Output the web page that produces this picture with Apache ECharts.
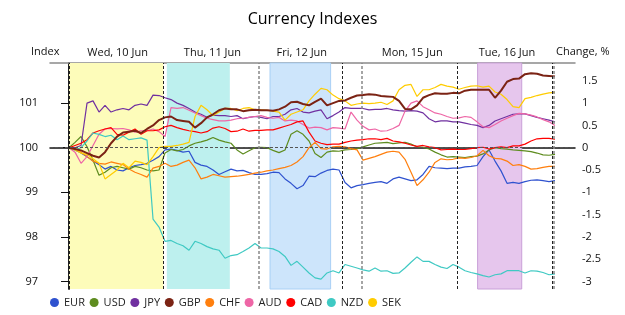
<!DOCTYPE html>
<html>
<head>
<meta charset="UTF-8">
<title>Currency Indexes</title>
<style>
  html, body { margin: 0; padding: 0; background: #fff; }
  #main { width: 625px; height: 315px; }
</style>
</head>
<body>
<div id="main"></div>
<script src="https://cdn.jsdelivr.net/npm/echarts@6/dist/echarts.min.js"></script>
<script>
// change in % from start, one sample per step (Wed 17, Thu 15, Fri 16, Mon 17, Tue 17)
var eur = [0.0, -0.05, -0.12, -0.2, -0.3, -0.38, -0.48, -0.42, -0.5, -0.52, -0.45, -0.4, -0.38, -0.35, -0.28, -0.2, -0.05,
  -0.03, -0.06, -0.1, -0.08, -0.33, -0.39, -0.42, -0.5, -0.6, -0.54, -0.48, -0.52, -0.51, -0.56, -0.6,
  -0.6, -0.58, -0.55, -0.56, -0.7, -0.8, -0.92, -0.85, -0.64, -0.65, -0.57, -0.51, -0.48, -0.5, -0.78, -0.9,
  -0.85, -0.83, -0.8, -0.78, -0.76, -0.8, -0.7, -0.66, -0.7, -0.74, -0.72, -0.6, -0.42, -0.45, -0.46, -0.47, -0.46,
  -0.46, -0.43, -0.42, -0.4, -0.2, -0.05, -0.3, -0.52, -0.8, -0.78, -0.8, -0.76, -0.73, -0.72, -0.74, -0.76, -0.74];
var usd = [0.0, 0.12, 0.25, 0.02, -0.28, -0.62, -0.55, -0.45, -0.42, -0.45, -0.48, -0.42, -0.45, -0.5, -0.52, -0.5, -0.12,
  -0.04, -0.07, -0.04, 0.04, 0.1, 0.13, 0.17, 0.23, 0.17, 0.13, 0.1, -0.05, -0.14, -0.07, 0.0,
  0.01, 0.0, -0.06, -0.11, -0.05, 0.3, 0.38, 0.3, 0.15, -0.13, -0.22, -0.1, -0.07, -0.08, -0.05, -0.04,
  -0.02, 0.02, 0.06, 0.1, 0.11, 0.12, 0.09, 0.11, 0.12, 0.08, 0.02, 0.01, -0.03, -0.1, -0.16, -0.21, -0.2,
  -0.21, -0.22, -0.2, -0.19, -0.14, -0.05, 0.0, -0.02, -0.03, -0.05, -0.06, -0.07, -0.09, -0.12, -0.16, -0.17, -0.15];
var jpy = [0.0, 0.0, 0.05, 1.0, 1.05, 0.8, 0.95, 0.8, 0.85, 0.88, 0.85, 0.95, 0.98, 0.95, 1.18, 1.17, 1.12,
  1.08, 1.0, 0.95, 0.88, 0.8, 0.75, 0.68, 0.73, 0.72, 0.72, 0.7, 0.72, 0.65, 0.68, 0.7,
  0.68, 0.65, 0.7, 0.7, 0.75, 0.85, 0.88, 0.8, 0.78, 0.82, 0.85, 0.65, 0.72, 0.8, 0.9, 0.88,
  0.88, 0.88, 0.85, 0.86, 0.86, 0.88, 0.85, 0.83, 0.82, 0.83, 0.82, 0.78, 0.65, 0.58, 0.6, 0.6, 0.58,
  0.58, 0.55, 0.52, 0.5, 0.45, 0.5, 0.6, 0.65, 0.7, 0.75, 0.76, 0.76, 0.72, 0.68, 0.65, 0.62, 0.58];
var gbp = [0.0, -0.03, -0.06, -0.12, -0.18, -0.22, -0.1, 0.1, 0.25, 0.34, 0.36, 0.38, 0.33, 0.42, 0.5, 0.62, 0.68,
  0.7, 0.62, 0.6, 0.58, 0.45, 0.55, 0.68, 0.75, 0.84, 0.88, 0.86, 0.86, 0.82, 0.84, 0.85,
  0.84, 0.84, 0.83, 0.86, 0.92, 1.02, 1.03, 0.98, 0.95, 1.03, 1.1, 0.95, 1.0, 1.05, 1.06, 1.12,
  1.17, 1.18, 1.2, 1.19, 1.16, 1.15, 1.14, 1.05, 0.87, 0.86, 0.95, 1.12, 1.18, 1.22, 1.21, 1.21, 1.23,
  1.22, 1.28, 1.3, 1.3, 1.3, 1.3, 1.12, 1.28, 1.48, 1.54, 1.55, 1.65, 1.67, 1.66, 1.62, 1.61, 1.6];
var chf = [0.0, -0.03, -0.1, -0.2, -0.3, -0.35, -0.37, -0.32, -0.35, -0.38, -0.48, -0.55, -0.6, -0.66, -0.46, -0.42, -0.35,
  -0.42, -0.39, -0.33, -0.28, -0.45, -0.7, -0.66, -0.6, -0.63, -0.66, -0.65, -0.64, -0.62, -0.6, -0.57,
  -0.55, -0.52, -0.5, -0.47, -0.44, -0.4, -0.32, -0.2, 0.0, 0.12, -0.02, -0.03, 0.02, 0.03, 0.02, -0.02,
  -0.05, -0.28, -0.24, -0.2, -0.15, -0.1, -0.08, -0.1, -0.26, -0.55, -0.85, -0.72, -0.55, -0.33, -0.25, -0.27, -0.26,
  -0.23, -0.24, -0.22, -0.18, -0.06, -0.18, -0.24, -0.25, -0.3, -0.4, -0.38, -0.42, -0.48, -0.47, -0.44, -0.42, -0.42];
var aud = [0.0, -0.1, -0.35, -0.2, 0.05, 0.3, 0.42, 0.43, 0.42, 0.43, 0.4, 0.35, 0.38, 0.38, 0.42, 0.36, 0.25,
  0.9, 0.88, 0.9, 0.84, 0.78, 0.72, 0.66, 0.63, 0.6, 0.6, 0.62, 0.65, 0.66, 0.68, 0.7,
  0.72, 0.68, 0.66, 0.68, 0.6, 0.62, 0.6, 0.52, 0.44, 0.46, 0.45, 0.4, 0.45, 0.44, 0.42, 0.8,
  0.62, 0.48, 0.4, 0.42, 0.37, 0.38, 0.43, 0.5, 0.82, 1.0, 1.05, 0.92, 0.85, 0.78, 0.75, 0.7, 0.66,
  0.67, 0.7, 0.68, 0.58, 0.47, 0.45, 0.52, 0.6, 0.66, 0.72, 0.77, 0.76, 0.73, 0.69, 0.63, 0.58, 0.5];
var cad = [0.0, 0.05, 0.1, 0.18, 0.33, 0.38, 0.42, 0.45, 0.3, 0.28, 0.35, 0.42, 0.3, 0.38, 0.38, 0.4, 0.47,
  0.5, 0.45, 0.41, 0.38, 0.36, 0.33, 0.36, 0.44, 0.47, 0.43, 0.36, 0.37, 0.42, 0.37, 0.39,
  0.39, 0.4, 0.4, 0.44, 0.48, 0.52, 0.58, 0.6, 0.35, 0.15, 0.1, 0.07, 0.08, 0.08, 0.12, 0.15,
  0.17, 0.18, 0.2, 0.2, 0.18, 0.21, 0.15, 0.13, 0.1, 0.06, 0.03, 0.05, 0.02, 0.0, -0.05, -0.04, -0.03,
  -0.04, -0.04, -0.02, 0.0, 0.01, -0.03, 0.0, 0.02, 0.0, 0.04, 0.04, 0.08, 0.15, 0.2, 0.21, 0.21, 0.19];
var nzd = [0.0, -0.05, 0.0, 0.15, 0.33, 0.3, 0.25, 0.28, 0.18, 0.26, 0.18, 0.2, 0.22, 0.17, -1.6, -1.78, -2.1,
  -2.08, -2.15, -2.2, -2.3, -2.1, -2.15, -2.22, -2.27, -2.3, -2.48, -2.42, -2.4, -2.33, -2.25, -2.15,
  -2.25, -2.25, -2.27, -2.33, -2.44, -2.64, -2.55, -2.68, -2.81, -2.92, -2.95, -2.81, -2.76, -2.81, -2.62, -2.66,
  -2.7, -2.74, -2.77, -2.7, -2.77, -2.76, -2.82, -2.81, -2.7, -2.57, -2.45, -2.55, -2.55, -2.62, -2.68, -2.71, -2.62,
  -2.68, -2.76, -2.8, -2.83, -2.87, -2.9, -2.85, -2.83, -2.76, -2.76, -2.76, -2.81, -2.76, -2.77, -2.8, -2.85, -2.83];
var sek = [0.0, -0.05, -0.12, -0.15, -0.25, -0.35, -0.7, -0.6, -0.5, -0.35, -0.45, -0.3, -0.33, -0.38, -0.2, 0.0, 0.03,
  0.03, 0.05, 0.08, 0.12, 0.7, 0.95, 0.85, 0.72, 0.8, 0.88, 0.88, 0.83, 0.88, 0.9, 0.85,
  0.85, 0.84, 0.82, 0.8, 0.62, 0.75, 0.8, 0.85, 1.05, 1.2, 1.33, 1.3, 1.18, 1.1, 1.05, 0.95,
  0.98, 1.0, 0.99, 1.0, 1.02, 0.97, 1.05, 1.3, 1.4, 1.42, 1.15, 1.3, 1.3, 1.35, 1.42, 1.38, 1.36,
  1.31, 1.35, 1.38, 1.39, 1.36, 1.38, 1.25, 1.2, 1.08, 0.92, 0.9, 1.1, 1.13, 1.17, 1.2, 1.23, 1.24];

var names = ['EUR', 'USD', 'JPY', 'GBP', 'CHF', 'AUD', 'CAD', 'NZD', 'SEK'];
var colors = ['#2f52cf', '#5e8c1f', '#7030a0', '#7b2314', '#ff7f0e', '#ee66a6', '#ff0000', '#3fc9c3', '#ffcc00'];
var allData = [eur, usd, jpy, gbp, chf, aud, cad, nzd, sek];

// x is the sample step
var dayNames = ['Wed, 10 Jun', 'Thu, 11 Jun', 'Fri, 12 Jun', 'Mon, 15 Jun', 'Tue, 16 Jun'];
var dayCenters = [8.1, 23.9, 38.8, 57.2, 73];
var blackDash = [0, 15.72, 45.6, 64.72, 80.55];
var grayDash = [31.67, 48.83, 80.85];
var bands = [[0, 15.72, '#fdfcba', null], [16.3, 26.8, '#bdf0ee', null], [33.5, 43.6, '#cde5fb', '#a9d0f5'], [68.1, 75.45, '#e6c6ed', '#c9a0d8']];

var indexTicks = [97, 98, 99, 100, 101];
var changeTicks = [-3, -2.5, -2, -1.5, -1, -0.5, 0, 0.5, 1, 1.5];

var font = 'Open Sans';
var chart = echarts.init(document.getElementById('main'));

var seriesList = [{
  name: 'bg',
  type: 'line',
  data: [],
  z: 1,
  xAxisIndex: 0,
  yAxisIndex: 1,
  silent: true,
  markArea: {
    silent: true,
    data: bands.map(function (b) {
      return [{ xAxis: b[0], itemStyle: { color: b[2], borderColor: b[3] || b[2], borderWidth: b[3] ? 1 : 0 } }, { xAxis: b[1] }];
    })
  },
  markLine: {
    silent: true,
    symbol: ['none', 'none'],
    label: { show: false },
    data: blackDash.map(function (x) {
      return { xAxis: x, lineStyle: { color: '#222', width: 1, type: [3, 2] } };
    }).concat(grayDash.map(function (x) {
      return { xAxis: x, lineStyle: { color: '#888', width: 1.5, type: [3, 2] } };
    })).concat([{ yAxis: 0, lineStyle: { color: '#555', width: 1, type: [3, 2] } }])
  }
}];

names.forEach(function (n, k) {
  seriesList.push({
    name: n,
    type: 'line',
    xAxisIndex: 0,
    yAxisIndex: 1,
    showSymbol: false,
    z: n === 'GBP' ? 3 : 2,
    lineStyle: { width: n === 'GBP' ? 2 : 1.2, color: colors[k] },
    itemStyle: { color: colors[k] },
    data: allData[k].map(function (v, i) { return [i, v]; })
  });
});

chart.setOption({
  animation: false,
  title: {
    text: 'Currency Indexes',
    left: 'center',
    top: 6,
    textStyle: { fontFamily: font, fontSize: 16, fontWeight: 'normal', color: '#000' }
  },
  legend: {
    data: names,
    left: 50,
    top: 297,
    padding: 0,
    icon: 'circle',
    itemWidth: 9,
    itemHeight: 9,
    itemGap: 4.7,
    textStyle: { fontFamily: font, fontSize: 11, color: '#222', width: 28 }
  },
  graphic: [
    { type: 'text', left: 31, top: 46, style: { text: 'Index', fontFamily: font, fontSize: 11, fill: '#111' } },
    { type: 'text', left: 556, top: 46, style: { text: 'Change, %', fontFamily: font, fontSize: 11, fill: '#111' } }
  ],
  grid: { left: 50, right: 50, top: 63, bottom: 26 },
  xAxis: [{
    type: 'value',
    min: -3.17,
    max: 84.33,
    position: 'bottom',
    axisLine: { lineStyle: { color: '#111', width: 1.5 } },
    axisTick: { show: false },
    axisLabel: { show: false },
    splitLine: { show: false }
  }, {
    type: 'value',
    min: -3.17,
    max: 84.33,
    position: 'top',
    axisLine: { show: true, lineStyle: { color: '#8a8a8a', width: 1.5 } },
    axisTick: { show: false },
    axisLabel: {
      customValues: dayCenters,
      margin: 5,
      fontFamily: font,
      fontSize: 11,
      color: '#111',
      formatter: function (v) { return dayNames[dayCenters.indexOf(v)]; }
    },
    splitLine: { show: false }
  }],
  yAxis: [{
    type: 'value',
    position: 'left',
    min: 96.83,
    max: 101.9,
    axisLine: { show: true, lineStyle: { color: '#111', width: 1.5 } },
    axisTick: { show: true, customValues: indexTicks, length: 8, lineStyle: { color: '#111' } },
    axisLabel: { customValues: indexTicks, margin: 12, fontFamily: font, fontSize: 11, color: '#111' },
    splitLine: { show: false }
  }, {
    type: 'value',
    position: 'right',
    min: -3.17,
    max: 1.9,
    axisLine: { show: true, lineStyle: { color: '#111', width: 1.5 } },
    axisTick: { show: true, customValues: changeTicks, length: 7, lineStyle: { color: '#111' } },
    axisLabel: { customValues: changeTicks, margin: 7, fontFamily: font, fontSize: 11, color: '#111' },
    splitLine: { show: false }
  }],
  series: seriesList
});
</script>
</body>
</html>
